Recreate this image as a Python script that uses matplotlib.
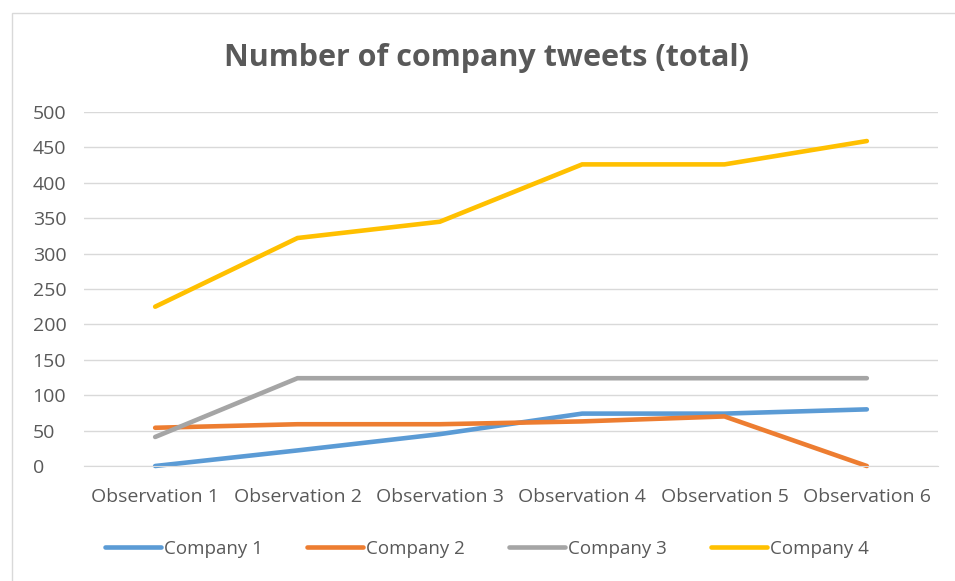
import matplotlib.pyplot as plt
from matplotlib.patches import Rectangle

observations = ["Observation 1", "Observation 2", "Observation 3",
                "Observation 4", "Observation 5", "Observation 6"]
company_1 = [0, 22, 45, 74, 74, 80]
company_2 = [54, 59, 59, 63, 70, 0]
company_3 = [41, 124, 124, 124, 124, 124]
company_4 = [225, 322, 345, 426, 426, 459]

series = [
    ("Company 1", company_1, "#5B9BD5"),
    ("Company 2", company_2, "#ED7D31"),
    ("Company 3", company_3, "#A5A5A5"),
    ("Company 4", company_4, "#FFC000"),
]

plt.rcParams["font.family"] = ["Open Sans", "DejaVu Sans"]
text_color = "#595959"

W, H = 955, 581
fig = plt.figure(figsize=(W / 100, H / 100), dpi=100)

# light chart-area border
fig.patches.append(Rectangle((12 / W, -0.05), 1.1, (H - 13) / H + 0.05,
                             transform=fig.transFigure, fill=False,
                             edgecolor="#D9D9D9", linewidth=1.0))

ax = fig.add_axes([84 / W, (H - 466) / H, (938 - 84) / W, (466 - 112) / H])
x = list(range(len(observations)))
for name, vals, color in series:
    ax.plot(x, vals, color=color, linewidth=3.3, label=name,
            solid_capstyle="round", solid_joinstyle="miter", clip_on=False)

ax.set_xlim(-0.5, len(observations) - 0.5)
ax.set_ylim(0, 500)
ax.set_yticks(range(0, 501, 50))
ax.set_xticks(x)
ax.set_xticklabels(observations)
ax.grid(axis="y", color="#D9D9D9", linewidth=1.0)
ax.set_axisbelow(True)
for side in ["top", "right", "left"]:
    ax.spines[side].set_visible(False)
ax.spines["bottom"].set_color("#D9D9D9")
ax.tick_params(axis="both", length=0, labelsize=14, colors=text_color)
ax.tick_params(axis="y", pad=37)
for lbl in ax.get_yticklabels():
    lbl.set_horizontalalignment("left")
ax.tick_params(axis="x", pad=16)

fig.text(486 / W, (H - 58) / H, "Number of company tweets (total)", ha="center",
         va="center", fontsize=22, fontweight="bold", color=text_color)

ax.legend(loc="center", bbox_to_anchor=(0.51, (H - 549) / H), bbox_transform=fig.transFigure,
          ncol=4, frameon=False, fontsize=13.5, labelcolor=text_color,
          handlelength=3.0, handletextpad=0.15, columnspacing=2.35)

fig.savefig("out.png", dpi=100)
